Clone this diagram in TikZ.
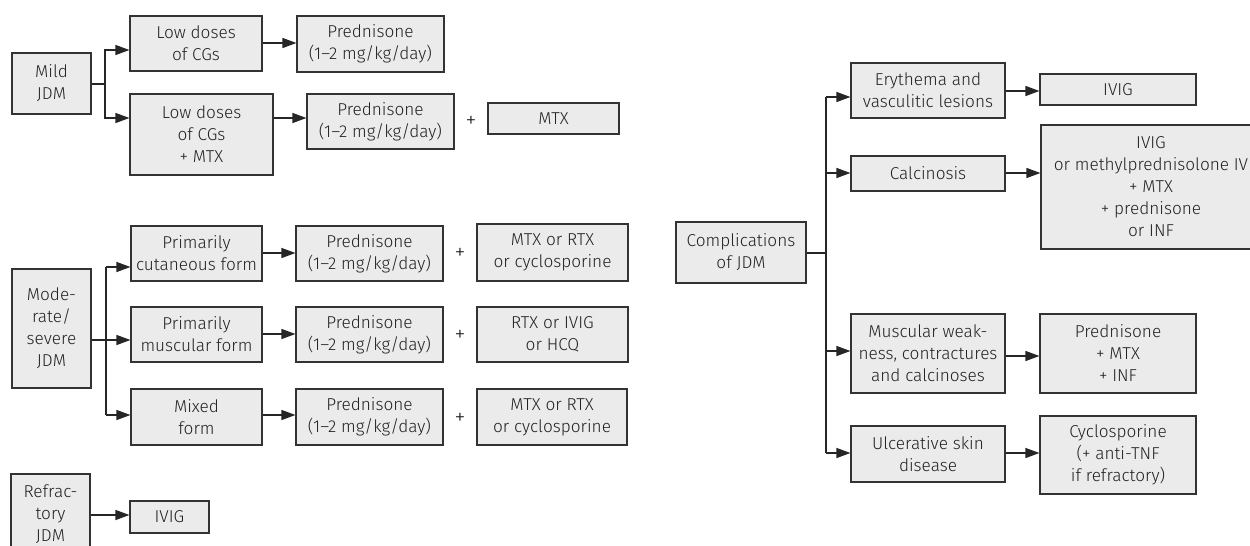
\documentclass[tikz,border=0pt]{standalone}
\usepackage{fontspec}
\setmainfont{Fira Sans Light}
\usetikzlibrary{arrows.meta,calc}
\definecolor{boxfill}{HTML}{EBEBEB}
\definecolor{boxline}{HTML}{333333}
\definecolor{txt}{HTML}{222222}
\tikzset{
  box/.style={draw=boxline, fill=boxfill, line width=1.1pt, inner sep=0pt,
    align=center, text=txt, font=\fontsize{17.2}{22}\selectfont},
  plus/.style={inner sep=0pt, text=txt, font=\fontsize{22}{22}\selectfont},
  conn/.style={line width=1.2pt, draw=black!85},
  arr/.style={conn, -{Triangle[length=14pt,width=10pt]}},
}
\begin{document}
\begin{tikzpicture}[x=1pt,y=-1pt]
\useasboundingbox (0,0) rectangle (1250,546);
% ---------- Mild JDM ----------
\node[box, minimum width=79pt, minimum height=61pt] (mild) at (51.5,83.5) {Mild\\JDM};
\node[box, minimum width=132pt, minimum height=55pt] (low1) at (196,43.5) {Low doses\\of CGs};
\node[box, minimum width=147pt, minimum height=56pt] (pred1) at (370.5,44) {Prednisone\\(1–2 mg/kg/day)};
\node[box, minimum width=143pt, minimum height=81pt] (low2) at (201.5,134.5) {Low doses\\of CGs\\+ MTX};
\node[box, minimum width=147pt, minimum height=55pt] (pred2) at (380.5,121.5) {Prednisone\\(1–2 mg/kg/day)};
\node[plus] (p1) at (471,122) {+};
\node[box, minimum width=131pt, minimum height=31pt] (mtx1) at (553.5,118.5) {MTX};
\coordinate (j1) at (105,84);
\draw[conn] (mild.east |- j1) -- (j1);
\draw[arr] (j1) |- (low1.west |- 0,50);
\draw[arr] (j1) |- (low2.west |- 0,118);
\draw[arr] (low1.east |- 0,43) -- (pred1.west |- 0,43);
\draw[arr] (low2.east |- 0,118) -- (pred2.west |- 0,118);
% ---------- Moderate/severe JDM ----------
\node[box, minimum width=79pt, minimum height=119pt] (mod) at (51.5,328.5) {Mode-\\rate/\\severe\\JDM};
\node[box, minimum width=131pt, minimum height=55pt] (cut) at (196.5,253.5) {Primarily\\cutaneous form};
\node[box, minimum width=147pt, minimum height=55pt] (predc) at (369.5,253.5) {Prednisone\\(1–2 mg/kg/day)};
\node[plus] (pc) at (460,254) {+};
\node[box, minimum width=151pt, minimum height=57pt] (mtxc) at (552.5,252.5) {MTX or RTX\\or cyclosporine};
\node[box, minimum width=131pt, minimum height=55pt] (mus) at (196.5,334.5) {Primarily\\muscular form};
\node[box, minimum width=147pt, minimum height=55pt] (predm) at (369.5,334.5) {Prednisone\\(1–2 mg/kg/day)};
\node[plus] (pm) at (460,336) {+};
\node[box, minimum width=151pt, minimum height=55pt] (rtx) at (552.5,334.5) {RTX or IVIG\\or HCQ};
\node[box, minimum width=131pt, minimum height=56pt] (mix) at (196.5,417) {Mixed\\form};
\node[box, minimum width=147pt, minimum height=56pt] (predx) at (369.5,417) {Prednisone\\(1–2 mg/kg/day)};
\node[plus] (px) at (460,419) {+};
\node[box, minimum width=150pt, minimum height=56pt] (mtxx) at (552,417) {MTX or RTX\\or cyclosporine};
\coordinate (j2t) at (106,267);
\coordinate (j2b) at (106,415);
\draw[conn] (j2t |- 0,340) -- (j2t);
\draw[conn] (j2t |- 0,340) -- (j2b);
\draw[arr] (j2t) -- (cut.west |- j2t);
\draw[arr] (mod.east |- 0,340) -- (mus.west |- 0,340);
\draw[arr] (j2b) -- (mix.west |- j2b);
\draw[arr] (cut.east |- 0,253) -- (predc.west |- 0,253);
\draw[arr] (mus.east |- 0,334) -- (predm.west |- 0,334);
\draw[arr] (mix.east |- 0,415) -- (predx.west |- 0,415);
% ---------- Refractory JDM ----------
\node[box, minimum width=79pt, minimum height=81pt] (refr) at (50.5,514.5) {Refrac-\\tory\\JDM};
\node[box, minimum width=79pt, minimum height=32pt] (ivigr) at (169.5,517) {IVIG};
\draw[arr] (refr.east |- 0,515) -- (ivigr.west |- 0,515);
% ---------- Complications ----------
\node[box, minimum width=130pt, minimum height=61pt] (comp) at (741,252.5) {Complications\\of JDM};
\node[box, minimum width=154pt, minimum height=55pt] (ery) at (928,90.5) {Erythema and\\vasculitic lesions};
\node[box, minimum width=156pt, minimum height=31pt] (ivig1) at (1118,89.5) {IVIG};
\node[box, minimum width=154pt, minimum height=35pt] (calc) at (928,173.5) {Calcinosis};
\node[box, minimum width=220pt, minimum height=124pt] (meth) at (1151,187) {IVIG\\or methylprednisolone IV\\+ MTX\\+ prednisone\\or INF};
\node[box, minimum width=154pt, minimum height=79pt] (musw) at (928,353.5) {Muscular weak-\\ness, contractures\\and calcinoses};
\node[box, minimum width=156pt, minimum height=79pt] (pmi) at (1118,353.5) {Prednisone\\+ MTX\\+ INF};
\node[box, minimum width=154pt, minimum height=56pt] (ulc) at (928,454) {Ulcerative skin\\disease};
\node[box, minimum width=156pt, minimum height=78pt] (cyc) at (1118,455) {Cyclosporine\\(+ anti-TNF\\if refractory)};
\coordinate (j3) at (826,253);
\coordinate (j3t) at (826,97);
\coordinate (j3b) at (826,453);
\draw[conn] (comp.east |- j3) -- (j3);
\draw[conn] (j3t) -- (j3b);
\draw[arr] (j3t) -- (ery.west |- j3t);
\draw[arr] (j3 |- 0,173) -- (calc.west |- 0,173);
\draw[arr] (j3 |- 0,351) -- (musw.west |- 0,351);
\draw[arr] (j3b) -- (ulc.west |- j3b);
\draw[arr] (ery.east |- 0,91) -- (ivig1.west |- 0,91);
\draw[arr] (calc.east |- 0,173) -- (meth.west |- 0,173);
\draw[arr] (musw.east |- 0,356) -- (pmi.west |- 0,356);
\draw[arr] (ulc.east |- 0,453) -- (cyc.west |- 0,453);
\end{tikzpicture}
\end{document}
